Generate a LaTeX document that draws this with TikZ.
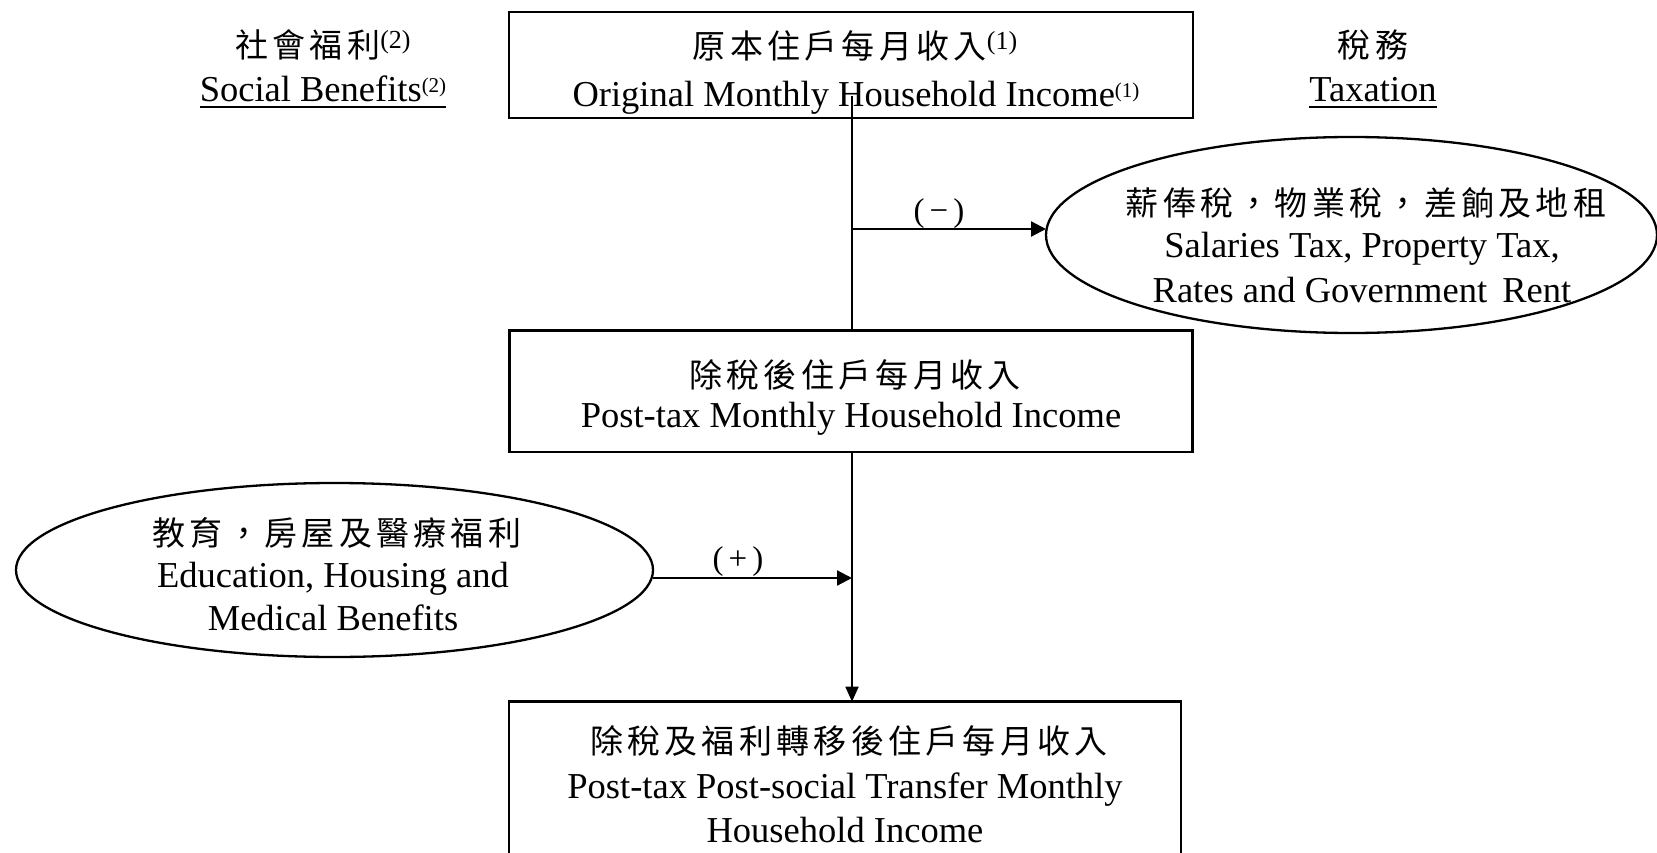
\documentclass[tikz,border=0pt]{standalone}
\usepackage{fontspec}
\setmainfont{Liberation Serif}
\newfontfamily\cjk[LetterSpace=13]{Noto Sans CJK TC}
\usetikzlibrary{arrows.meta,shapes.geometric}
\newcommand{\supnote}[1]{\raisebox{9.5pt}{\fontsize{21}{21}\selectfont(#1)}}
\newcommand{\supcjk}[1]{\raisebox{9pt}{\fontsize{26}{26}\selectfont(#1)}}
\newcommand{\zh}[1]{{\cjk\fontsize{33}{33}\selectfont #1}}
\begin{document}
\begin{tikzpicture}[x=1pt,y=-1pt,
  every node/.style={font=\fontsize{36.5}{45}\selectfont, inner sep=0pt, outer sep=0pt},
  box/.style={draw, line width=2.7pt, rectangle},
  oval/.style={draw, line width=2.3pt, ellipse},
  txt/.style={anchor=base},
  sign/.style={anchor=base, font=\fontsize{33}{33}\selectfont},
  ul/.style={line width=2.7pt},
  link/.style={line width=1.8pt},
  sidearrow/.style={line width=2.2pt, -{Triangle[length=15pt,width=15pt]}},
  downarrow/.style={line width=1.8pt, -{Triangle[length=15pt,width=13pt]}}
]
\clip (0,0) rectangle (1657,853);
% boxes
\node[box, minimum width=684pt, minimum height=106pt] (top) at (851,65) {};
\node[box, minimum width=683pt, minimum height=121.5pt] (mid) at (851,391.3) {};
\node[box, minimum width=672pt, minimum height=260pt] (bot) at (845,831.7) {};
% ovals
\node[oval, minimum width=611pt, minimum height=196pt] (tax) at (1351.5,235) {};
\node[oval, minimum width=637pt, minimum height=174pt] (ben) at (334.5,570) {};
% headings
\node[txt] (sb1) at (323,58) {\zh{社會福利}\supcjk{2}};
\node[txt] (sb2) at (323,102) {Social Benefits\supnote{2}};
\node[txt] (tx1) at (1373,58) {\zh{稅務}};
\node[txt] (tx2) at (1373,102) {Taxation};
\coordinate (ulrow) at (0,107);
\draw[ul] (sb2.west |- ulrow) -- (sb2.east |- ulrow);
\draw[ul] (tx2.west |- ulrow) -- (tx2.east |- ulrow);
% box texts
\node[txt] (t1) at (855,59) {\zh{原本住戶每月收入}\supcjk{1}};
\node[txt] (t2) at (856,107) {Original Monthly Household Income\supnote{1}};
\node[txt] (m1) at (855,387) {\zh{除稅後住戶每月收入}};
\node[txt] (m2) at (851,427) {Post-tax Monthly Household Income};
\node[txt] (b1) at (849,753) {\zh{除稅及福利轉移後住戶每月收入}};
\node[txt] (b2) at (845,798) {Post-tax Post-social Transfer Monthly};
\node[txt] (b3) at (845,842) {Household Income};
% oval texts
\node[txt] (r1) at (1366,215) {\zh{薪俸稅，物業稅，差餉及地租}};
\node[txt] (r2) at (1362,258) {Salaries Tax, Property Tax,};
\node[txt] (r3) at (1362,302) {Rates and Government\, Rent};
\node[txt] (l1) at (337,545) {\zh{教育，房屋及醫療福利}};
\node[txt] (l2) at (333,587) {Education, Housing and};
\node[txt] (l3) at (333,630) {Medical Benefits};
% signs
\node[sign] (minus) at (939,222) {(\hspace{5pt}−\hspace{5pt})};
\node[sign] (plus) at (738,569) {(\hspace{5pt}+\hspace{5pt})};
% connectors
\coordinate (j1) at (852,229);
\coordinate (j2) at (852,578);
\draw[link] ([yshift=22pt]top.south -| j1) -- (mid.north -| j1);
\draw[sidearrow] (j1) -- (j1 -| tax.west);
\draw[downarrow] (mid.south -| j1) -- (bot.north -| j1);
\draw[sidearrow] (ben.east |- j2) -- (j2);
\end{tikzpicture}
\end{document}
